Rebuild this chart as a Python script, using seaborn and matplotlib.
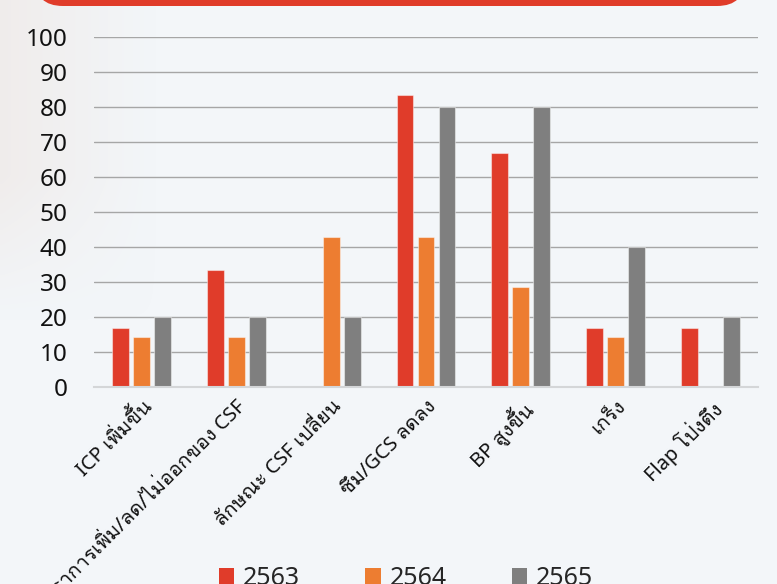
import matplotlib
matplotlib.use("Agg")
import numpy as np
import pandas as pd
import matplotlib.pyplot as plt
import seaborn as sns
from matplotlib.patches import FancyBboxPatch, Patch

# Signs observed per year (percent of cases)
categories = [
    "ICP เพิ่มขึ้น",
    "อัตราการเพิ่ม/ลด/ไม่ออกของ CSF",
    "ลักษณะ CSF เปลี่ยน",
    "ซึม/GCS ลดลง",
    "BP สูงขึ้น",
    "เกร็ง",
    "Flap โป่งตึง",
]
years = ["2563", "2564", "2565"]
values_2563 = [16.7, 33.3, 0.0, 83.3, 66.7, 16.7, 16.7]
values_2564 = [14.3, 14.3, 42.9, 42.9, 28.6, 14.3, 0.0]
values_2565 = [20.0, 20.0, 20.0, 80.0, 80.0, 40.0, 20.0]
yticks = [0, 10, 20, 30, 40, 50, 60, 70, 80, 90, 100]

colors = ["#E03C2A", "#ED7D31", "#7F7F7F"]

df = pd.DataFrame({
    "category": categories * 3,
    "year": [y for y in years for _ in categories],
    "value": values_2563 + values_2564 + values_2565,
})

sns.set_theme(style="white")
# Latin and digits from Noto Sans, Thai script from Loma
plt.rcParams["font.family"] = ["Noto Sans", "Loma", "DejaVu Sans"]

W, H = 777, 584
fig = plt.figure(figsize=(W / 100, H / 100), dpi=100, facecolor="#F3F6F9")

# Backdrop: soft warm haze on the left and the red header band
bg = fig.add_axes([0, 0, 1, 1], zorder=-5)
bg.set_xlim(0, W)
bg.set_ylim(H, 0)
bg.axis("off")
xx = np.linspace(0, 1, 200)
yy = np.linspace(0, 1, 150)
gx, gy = np.meshgrid(xx, yy)
haze = np.clip(1.0 - gx / 0.2, 0, 1) * np.clip(1.0 - (gy - 0.3) / 0.25, 0, 1)
img = np.zeros((150, 200, 4))
img[..., 0] = 0.94
img[..., 1] = 0.92
img[..., 2] = 0.91
img[..., 3] = 0.8 * haze
bg.imshow(img, extent=(0, W, H, 0), aspect="auto", interpolation="bilinear")
bg.add_patch(FancyBboxPatch((35, -40), 710, 46,
                            boxstyle="round,pad=0,rounding_size=28",
                            facecolor="#E03C2A", edgecolor="none"))

ax = fig.add_axes([94 / W, 1 - 386.7 / H, 664 / W, 350 / H])
ax.patch.set_alpha(0)

sns.barplot(data=df, x="category", y="value", hue="year", order=categories,
            hue_order=years, palette=colors, saturation=1, width=0.664, gap=0.2,
            edgecolor=(1, 1, 1, 0.45), linewidth=0.8, legend=False, ax=ax)

ax.set_ylim(0, 100)
ax.set_xlim(-0.5, len(categories) - 0.5)
ax.set_yticks(yticks)
ax.set_yticklabels([str(t) for t in yticks], fontsize=17.5, color="#111111")
ax.tick_params(axis="y", length=0, pad=19)
ax.tick_params(axis="x", length=0, pad=7)
ax.set_xticks(range(len(categories)))
ax.set_xticklabels(categories, rotation=45, ha="right",
                   rotation_mode="anchor", fontsize=14.5, color="#111111")
ax.set_xlabel("")
ax.set_ylabel("")
ax.yaxis.grid(True, color="#A6A6A6", linewidth=1.0)
ax.xaxis.grid(False)
ax.set_axisbelow(True)
for side in ["top", "right", "left"]:
    ax.spines[side].set_visible(False)
ax.spines["bottom"].set_color("#D4D6D8")
ax.spines["bottom"].set_linewidth(1.5)

handles = [Patch(facecolor=c, edgecolor="none", label=y) for c, y in zip(colors, years)]
fig.legend(handles=handles, loc="upper center", bbox_to_anchor=(406 / W, 1 - 566 / H),
           ncol=3, frameon=False, fontsize=18, handlelength=0.62, handleheight=0.62,
           handletextpad=0.35, columnspacing=2.6, borderpad=0, borderaxespad=0)

fig.savefig("out.png", dpi=100, facecolor=fig.get_facecolor())
